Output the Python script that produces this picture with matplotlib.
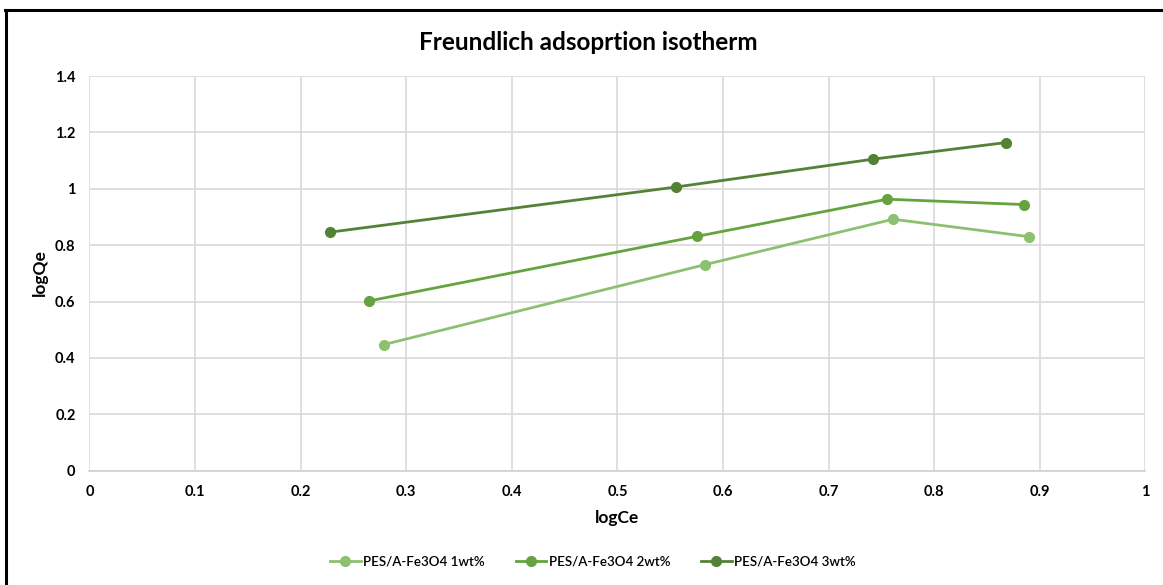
import matplotlib
matplotlib.use("Agg")
import matplotlib.pyplot as plt
from matplotlib.lines import Line2D

series_names = ["PES/A-Fe3O4 1wt%", "PES/A-Fe3O4 2wt%", "PES/A-Fe3O4 3wt%"]
x1 = [0.2785, 0.583, 0.761, 0.890]
y1 = [0.447, 0.731, 0.892, 0.830]
x2 = [0.2646, 0.575, 0.7555, 0.885]
y2 = [0.602, 0.831, 0.963, 0.944]
x3 = [0.2277, 0.555, 0.742, 0.868]
y3 = [0.846, 1.006, 1.105, 1.164]
xticks = [0, 0.1, 0.2, 0.3, 0.4, 0.5, 0.6, 0.7, 0.8, 0.9, 1]
yticks = [0, 0.2, 0.4, 0.6, 0.8, 1, 1.2, 1.4]
colors = ["#8DC070", "#65A33F", "#548235"]

plt.rcParams['font.family'] = ['Lato', 'DejaVu Sans']

W, H = 1163, 585
fig = plt.figure(figsize=(W / 100, H / 100), dpi=100)
ax = fig.add_axes([89.4 / W, 1 - 470.7 / H, (1145.5 - 89.4) / W, (470.7 - 76) / H])

for xs, ys, c, n in zip([x1, x2, x3], [y1, y2, y3], colors, series_names):
    ax.plot(xs, ys, color=c, lw=2.0, marker='o', ms=7, label=n, zorder=3)

ax.set_xlim(0, 1)
ax.set_ylim(0, 1.4)
ax.set_xticks(xticks)
ax.set_yticks(yticks)
ax.set_xticklabels([f"{v:g}" for v in xticks], fontsize=10.5, fontweight='bold')
ax.set_yticklabels([f"{v:g}" for v in yticks], fontsize=10.5, fontweight='bold')
ax.tick_params(length=0, pad=10)
ax.grid(True, color='#D9D9D9', lw=1.2)
ax.set_axisbelow(True)
for s in ['top', 'right', 'left']:
    ax.spines[s].set_visible(False)
ax.spines['bottom'].set_color('#D0D0D0')
ax.spines['bottom'].set_linewidth(1.2)

fig.text(588 / W, 1 - 42 / H, "Freundlich adsoprtion isotherm", ha='center', va='center',
         fontsize=17.5, fontweight='bold')
fig.text(617 / W, 1 - 518 / H, "logCe", ha='center', va='center', fontsize=12.5, fontweight='bold')
fig.text(40 / W, 1 - 273 / H, "logQe", ha='center', va='center', fontsize=12.5, fontweight='bold',
         rotation=90)

handles = [Line2D([0], [0], color=c, lw=2, marker='o', ms=7) for c in colors]
fig.legend(handles, series_names, loc='center', bbox_to_anchor=(593 / W, 1 - 562 / H),
           ncol=3, frameon=False, prop={'size': 9.6, 'weight': 'semibold'},
           handlelength=2.3, columnspacing=2.3, handletextpad=0.2)

# border lines (left and top)
fig.add_artist(Line2D([5.8 / W, 5.8 / W], [0, 1 - 10 / H], color='black', lw=2.2,
                      transform=fig.transFigure))
fig.add_artist(Line2D([5 / W, 1], [1 - 10 / H, 1 - 10 / H], color='black', lw=2.2,
                      transform=fig.transFigure))

fig.savefig("out.png", dpi=100)
